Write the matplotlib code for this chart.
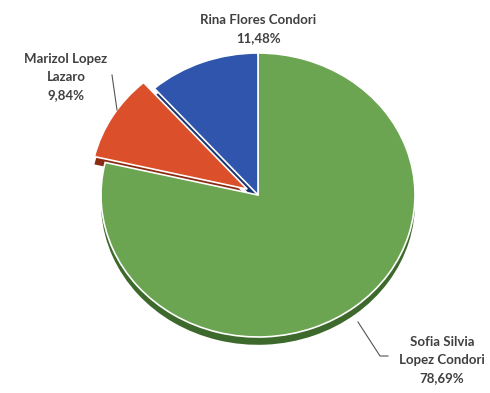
import matplotlib
matplotlib.use("Agg")
import matplotlib.pyplot as plt

categories = ["Sofia Silvia\nLopez Condori", "Marizol Lopez\nLazaro", "Rina Flores Condori"]
values = [78.69, 9.84, 11.48]
colors = ["#6ba552", "#dc4f2b", "#2f55ad"]
shadow_colors = ["#3d6a2c", "#8a2c14", "#1a3470"]
explode = [0, 0.08, 0]

W, H = 490, 393
CX, CY = 258, 195
RX, RY = 157, 142

fig = plt.figure(figsize=(W / 100, H / 100), dpi=100)
ax = fig.add_axes([0, 0, 1, 1])

def px(x, y):
    return ((x - CX) / RX, (CY - y) / RY)

# shadow (3D depth)
ax.pie(values, colors=shadow_colors, startangle=90, counterclock=False,
       explode=explode, center=(0, -0.055), radius=1.0,
       wedgeprops=dict(linewidth=0))
ax.pie(values, colors=colors, startangle=90, counterclock=False,
       explode=explode, center=(0, 0), radius=1.0,
       wedgeprops=dict(linewidth=1.2, edgecolor="white"))

ax.set_aspect("auto")
ax.set_xlim(-CX / RX, (W - CX) / RX)
ax.set_ylim(-(H - CY) / RY, CY / RY)
ax.axis("off")

def fmt(v):
    return f"{v:.2f}%".replace(".", ",")

font = dict(family=["Lato", "DejaVu Sans"], fontsize=9.5, fontweight="bold",
            color="#404040", ha="center", va="center", linespacing=1.6)

# label positions (pixels)
lab_pos = [(442, 360), (66, 77), (258, 29)]
for name, v, (lx, ly) in zip(categories, values, lab_pos):
    x, y = px(lx, ly)
    ax.text(x, y, f"{name}\n{fmt(v)}", **font)

# leader lines
lc = dict(color="#555555", lw=0.8)
p = [px(112, 75), px(117, 110)]
ax.plot([q[0] for q in p], [q[1] for q in p], **lc)
p = [px(358, 322), px(380, 356), px(388, 356)]
ax.plot([q[0] for q in p], [q[1] for q in p], **lc)
p = [px(258, 44), px(258, 55)]
ax.plot([q[0] for q in p], [q[1] for q in p], color="white", lw=1.2)

fig.savefig("out.png", dpi=100)
